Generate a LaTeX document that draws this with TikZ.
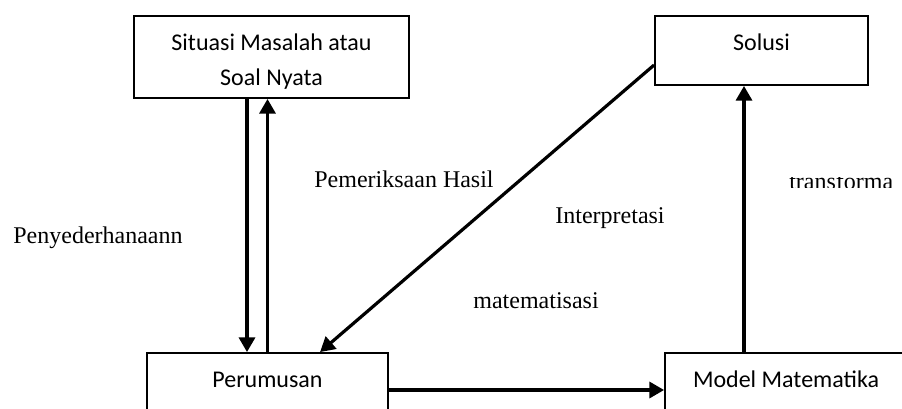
\documentclass[tikz,border=0pt]{standalone}
\usepackage{fontspec}
\setmainfont{Liberation Serif}
\newfontfamily\boxfont{Carlito}
\usetikzlibrary{arrows.meta,positioning,calc}
\tikzset{
  boxnd/.style={draw, line width=1.4pt, inner sep=0pt, align=center,
    font=\boxfont\fontsize{18}{26.25}\selectfont},
  onebox/.style={boxnd, text height=9pt, text depth=9pt},
  arrln/.style={-{Triangle[length=11pt,width=12pt]}, line width=2.4pt},
  lbl/.style={inner sep=0pt, anchor=base, font=\fontsize{18}{22}\selectfont},
}
\begin{document}
\begin{tikzpicture}[x=0.75pt, y=-0.75pt]
    \clip (0,0) rectangle (902,408);
    % the four boxes
    \node[boxnd, minimum width=206.25pt, minimum height=61.5pt,
      text height=44pt, text depth=2pt] (sit) at (271.5,57)
      {Situasi Masalah atau\\Soal Nyata};
    \node[onebox, minimum width=159.75pt, minimum height=51.75pt] (sol) at (761.5,50.5) {Solusi};
    \node[onebox, minimum width=180.75pt, minimum height=51.75pt] (per) at (267.5,387.5) {Perumusan};
    \node[onebox, minimum width=181.5pt, minimum height=51.75pt] (mod) at (786,387.5) {Model Matematika};
    % connectors
    \coordinate (dn) at (247,0);
    \draw[arrln] (dn |- sit.south) -- (dn |- per.north);
    \draw[arrln] (per.north) -- (per.north |- sit.south);
    \draw[arrln] ([yshift=-10.9pt]sol.west) -- ([xshift=39.4pt]per.north);
    \draw[arrln] (per.east |- 0,390) -- (mod.west |- 0,390);
    \draw[arrln] ([xshift=-31.5pt]mod.north) -- ([xshift=-31.5pt]mod.north |- sol.south);
    % labels
    \node[lbl] (lpeny) at (98,243) {Penyederhanaann};
    \node[lbl] (lperiksa) at (404,187) {Pemeriksaan Hasil};
    \node[lbl] (linter) at (610,223) {Interpretasi};
    \node[lbl] (lmat) at (536,308) {matematisasi};
    \begin{scope}
      \clip (786,177) rectangle (902,187);
      \node[lbl, anchor=base west] (ltrans) at (789,189) {transforma};
    \end{scope}
\end{tikzpicture}
\end{document}
